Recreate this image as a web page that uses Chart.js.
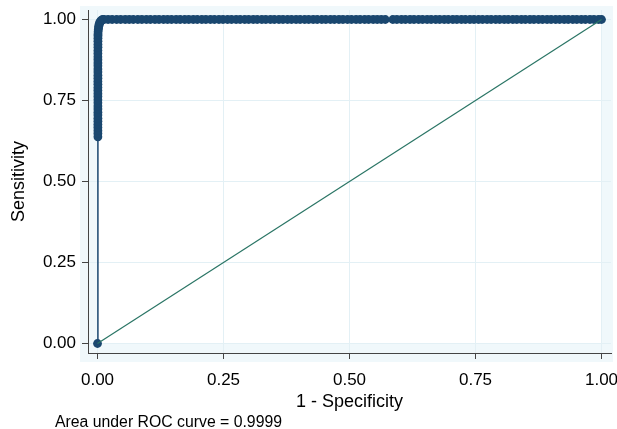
<!DOCTYPE html>
<html>
<head>
<meta charset="utf-8">
<script src="https://cdn.jsdelivr.net/npm/chart.js@4.4.1/dist/chart.umd.min.js"></script>
<style>
html,body{margin:0;padding:0;background:#fff;}
#wrap{width:617px;height:429px;position:relative;}
</style>
</head>
<body>
<div id="wrap"><canvas id="c" width="617" height="429"></canvas></div>
<script>
// ---- data ----
const tickValues = [0, 0.25, 0.5, 0.75, 1];
const tickLabels = ['0.00', '0.25', '0.50', '0.75', '1.00'];

// ROC curve: 1 - specificity (x) and sensitivity (y)
const rocFpr = [
  0,
  0.0008, 0.0008, 0.0008, 0.0008, 0.0008, 0.0008, 0.0008, 0.0008, 0.0008, 0.0008,
  0.0008, 0.0008, 0.0008, 0.0008, 0.0008, 0.0008, 0.0008, 0.0008, 0.0008, 0.0008,
  0.0008, 0.0008, 0.0008, 0.0008, 0.0008, 0.0008, 0.0008, 0.0008, 0.0008, 0.0009,
  0.0009, 0.0009, 0.0009, 0.0010,
  0.0010, 0.0012, 0.0015, 0.0020, 0.0025, 0.0030, 0.0040, 0.0050, 0.0060, 0.0080, 0.0100,
  0.013, 0.021, 0.029, 0.038, 0.046, 0.055, 0.063, 0.071, 0.080, 0.088,
  0.097, 0.105, 0.114, 0.122, 0.131, 0.139, 0.147, 0.156, 0.164, 0.173,
  0.181, 0.190, 0.198, 0.207, 0.215, 0.224, 0.232, 0.241, 0.249, 0.258,
  0.266, 0.275, 0.283, 0.292, 0.300, 0.309, 0.317, 0.326, 0.334, 0.343,
  0.351, 0.360, 0.368, 0.377, 0.385, 0.394, 0.402, 0.411, 0.419, 0.428,
  0.436, 0.445, 0.453, 0.462, 0.470, 0.479, 0.487, 0.496, 0.504, 0.513,
  0.521, 0.530, 0.538, 0.547, 0.555, 0.563, 0.571, 0.586, 0.594, 0.603,
  0.611, 0.620, 0.628, 0.637, 0.645, 0.654, 0.662, 0.671, 0.679, 0.688,
  0.696, 0.705, 0.713, 0.722, 0.730, 0.739, 0.747, 0.756, 0.764, 0.773,
  0.781, 0.790, 0.798, 0.807, 0.815, 0.824, 0.832, 0.841, 0.849, 0.858,
  0.866, 0.875, 0.883, 0.892, 0.900, 0.909, 0.917, 0.926, 0.934, 0.943,
  0.951, 0.960, 0.968, 0.977, 0.985, 0.994, 1.000
];
const rocTpr = [
  0,
  0.638, 0.648, 0.657, 0.667, 0.676, 0.686, 0.695, 0.705, 0.714, 0.724,
  0.733, 0.743, 0.752, 0.762, 0.771, 0.781, 0.790, 0.800, 0.809, 0.819,
  0.828, 0.838, 0.847, 0.857, 0.866, 0.876, 0.885, 0.895, 0.904, 0.914,
  0.923, 0.933, 0.942, 0.950,
  0.955, 0.962, 0.968, 0.974, 0.979, 0.984, 0.988, 0.992, 0.995, 0.998, 1.000,
  1, 1, 1, 1, 1, 1, 1, 1, 1, 1,
  1, 1, 1, 1, 1, 1, 1, 1, 1, 1,
  1, 1, 1, 1, 1, 1, 1, 1, 1, 1,
  1, 1, 1, 1, 1, 1, 1, 1, 1, 1,
  1, 1, 1, 1, 1, 1, 1, 1, 1, 1,
  1, 1, 1, 1, 1, 1, 1, 1, 1, 1,
  1, 1, 1, 1, 1, 1, 1, 1, 1, 1,
  1, 1, 1, 1, 1, 1, 1, 1, 1, 1,
  1, 1, 1, 1, 1, 1, 1, 1, 1, 1,
  1, 1, 1, 1, 1, 1, 1, 1, 1, 1,
  1, 1, 1, 1, 1, 1, 1, 1, 1, 1,
  1, 1, 1, 1, 1, 1, 1
];
// reference (chance) line
const refX = [0, 1];
const refY = [0, 1];

const xTitle = '1 - Specificity';
const yTitle = 'Sensitivity';
const noteText = 'Area under ROC curve = 0.9999';

// ---- chart ----
const FONT = '"Liberation Sans", Arial, Helvetica, sans-serif';
const NAVY = '#1a476f';
const GREEN = '#2a7565';

const backdrop = {
  id: 'backdrop',
  beforeDraw(chart) {
    const {ctx, scales: {x, y}} = chart;
    ctx.save();
    ctx.fillStyle = '#f0f8fb';
    ctx.fillRect(80, 6, 533, 356);
    ctx.fillStyle = '#ffffff';
    const l = x.getPixelForValue(0), r = x.getPixelForValue(1);
    const t = y.getPixelForValue(1), b = y.getPixelForValue(0);
    ctx.fillRect(l, t, r - l, b - t);
    ctx.restore();
  }
};
const note = {
  id: 'note',
  afterDraw(chart) {
    const ctx = chart.ctx;
    ctx.save();
    ctx.font = '15.8px ' + FONT;
    ctx.fillStyle = '#000';
    ctx.textBaseline = 'middle';
    ctx.textAlign = 'left';
    ctx.fillText(noteText, 55, 423);
    ctx.restore();
  }
};

function fixTicks(scale) {
  scale.ticks = tickValues.map(v => ({value: v}));
}

new Chart(document.getElementById('c'), {
  type: 'scatter',
  data: {
    datasets: [
      {
        label: 'Reference',
        data: refX.map((v, i) => ({x: v, y: refY[i]})),
        showLine: true,
        borderColor: GREEN,
        borderWidth: 1.2,
        pointRadius: 0,
        pointHoverRadius: 0
      },
      {
        label: 'ROC',
        data: rocFpr.map((v, i) => ({x: v, y: rocTpr[i]})),
        showLine: true,
        borderColor: NAVY,
        borderWidth: 1.5,
        backgroundColor: NAVY,
        pointBackgroundColor: NAVY,
        pointBorderWidth: 0,
        pointRadius: 4.4,
        pointHoverRadius: 4.4
      }
    ]
  },
  options: {
    responsive: false,
    animation: false,
    devicePixelRatio: 1,
    layout: {padding: {left: 0, top: 10, right: 6, bottom: 0}},
    plugins: {legend: {display: false}, tooltip: {enabled: false}},
    scales: {
      x: {
        type: 'linear',
        min: -0.01885,
        max: 1.01885,
        afterBuildTicks: fixTicks,
        afterFit(s) { s.height = 76; s.paddingLeft = 0; s.paddingRight = 0; },
        grid: {color: '#e3f0f5', lineWidth: 1, tickColor: '#444', tickLength: 6, drawOnChartArea: true},
        border: {color: '#444', width: 1},
        ticks: {
          color: '#000',
          font: {family: FONT, size: 17},
          padding: 11,
          maxRotation: 0,
          callback: (v) => tickLabels[tickValues.indexOf(v)]
        },
        title: {display: true, text: xTitle, color: '#000', font: {family: FONT, size: 18}, padding: {top: 0, bottom: 16}}
      },
      y: {
        type: 'linear',
        min: -0.0293,
        max: 1.0293,
        afterBuildTicks: fixTicks,
        afterFit(s) { s.width = 88; s.paddingTop = 0; s.paddingBottom = 0; },
        grid: {color: '#e3f0f5', lineWidth: 1, tickColor: '#444', tickLength: 6},
        border: {color: '#444', width: 1},
        ticks: {
          color: '#000',
          font: {family: FONT, size: 17},
          padding: 6,
          callback: (v) => tickLabels[tickValues.indexOf(v)]
        },
        title: {display: true, text: yTitle, color: '#000', font: {family: FONT, size: 18}, padding: {top: 8, bottom: 0}}
      }
    }
  },
  plugins: [backdrop, note]
});
</script>
</body>
</html>
